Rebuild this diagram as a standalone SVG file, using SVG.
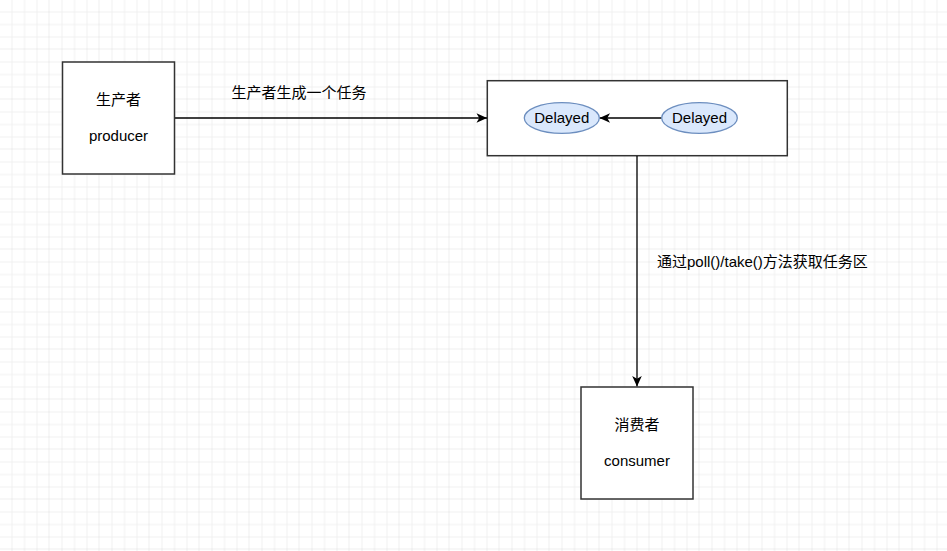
<svg xmlns="http://www.w3.org/2000/svg" width="947" height="551" viewBox="0 0 947 551">
  <defs>
    <pattern id="grid" x="-0.5" y="-0.5" width="50" height="50" patternUnits="userSpaceOnUse">
      <path d="M12.5,0 V50 M25,0 V50 M37.5,0 V50 M0,12.5 H50 M0,25 H50 M0,37.5 H50" stroke="#f0f0f0" stroke-width="1" fill="none"/>
      <path d="M50,0 V50 M0,50 H50" stroke="#dedede" stroke-width="1" fill="none"/>
    </pattern>
    <marker id="arrow" viewBox="-11 -6 12 12" refX="0" refY="0" markerWidth="12" markerHeight="12" markerUnits="userSpaceOnUse" orient="auto">
      <path d="M0,0 L-10.5,-4.8 L-7.8,0 L-10.5,4.8 Z" fill="#000"/>
    </marker>
    <style>
      .box { fill: #ffffff; stroke: #333333; stroke-width: 1.5; }
      .ell { fill: #dae8fc; stroke: #6c8ebf; stroke-width: 1.3; }
      .edge { fill: none; stroke: #000000; stroke-width: 1.3; marker-end: url(#arrow); }
      .t { font-family: "Liberation Sans", "Noto Sans CJK SC", Arial, sans-serif; font-size: 15px; fill: #000; }
      .c { text-anchor: middle; dominant-baseline: central; }
    </style>
  </defs>
  <rect x="0" y="0" width="947" height="551" fill="#ffffff"/>
  <rect x="0" y="0" width="947" height="551" fill="url(#grid)"/>

  <g id="queue">
    <rect class="box" x="487.3" y="80.7" width="300" height="75"/>
  </g>

  <g id="connectors">
    <path class="edge" d="M174.7,118 H487"/>
    <path class="edge" d="M661.7,118 H599.5"/>
    <path class="edge" d="M637,156 V386.5"/>
    <text class="t" x="299" y="92" text-anchor="middle" dominant-baseline="central">生产者生成一个任务</text>
    <text class="t" x="657" y="261" dominant-baseline="central">通过poll()/take()方法获取任务区</text>
  </g>

  <g id="producer">
    <rect class="box" x="62.5" y="62" width="112" height="112"/>
    <text class="t c" x="118.5" y="99">生产者</text>
    <text class="t c" x="118.5" y="135">producer</text>
  </g>

  <g id="delayed1">
    <ellipse class="ell" cx="561.8" cy="118" rx="37.5" ry="15.3"/>
    <text class="t c" x="561.8" y="117">Delayed</text>
  </g>

  <g id="delayed2">
    <ellipse class="ell" cx="699.5" cy="118" rx="37.8" ry="15.3"/>
    <text class="t c" x="699.5" y="117">Delayed</text>
  </g>

  <g id="consumer">
    <rect class="box" x="581" y="387" width="112" height="112"/>
    <text class="t c" x="637" y="424">消费者</text>
    <text class="t c" x="637" y="460">consumer</text>
  </g>
</svg>
